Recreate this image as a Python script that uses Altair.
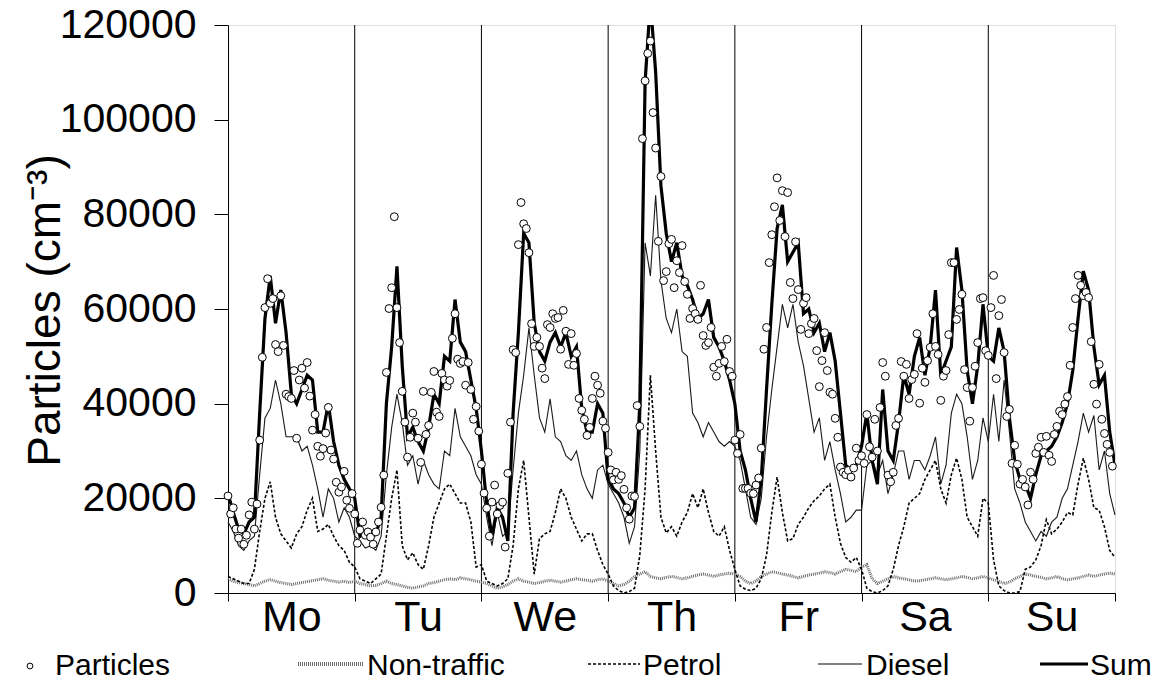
import altair as alt
import pandas as pd

DAYS = ["Mo", "Tu", "We", "Th", "Fr", "Sa", "Su"]
Y_TICKS = [0, 20000, 40000, 60000, 80000, 100000, 120000]
DAY_EDGES = [0, 24, 48, 72, 96, 120, 144, 168]
INNER_EDGES = [24, 48, 72, 96, 120, 144]

# Measured particles, half-hourly (48 per day)
particles_mo = [20500, 16700, 18000, 13500, 11600, 13500, 10300, 12200, 16500, 19200, 13500, 18800,
                32300, 49800, 60300, 66400, 61200, 62200, 52500, 51000, 62800, 52300, 42000, 41500,
                41100, 47000, 32700, 45000, 47500, 43300, 48700, 41600, 34400, 37700, 31000, 28900,
                30500, 33800, 39200, 30200, 28300, 23400, 21300, 22400, 25700, 19600, 17900, 21000]
particles_tu = [16700, 10500, 13300, 15000, 12200, 12900, 11800, 10300, 12900, 15000, 18100, 24900,
                46600, 60100, 64500, 79500, 60300, 52900, 42600, 36100, 28700, 32900, 38000, 36100,
                32700, 27600, 42600, 33500, 35400, 42400, 46800, 38200, 37300, 46400, 45000, 43700,
                44900, 53800, 59000, 49400, 48500, 48900, 43900, 48700, 43000, 36700, 39400, 34200]
particles_we = [27200, 21100, 17900, 12000, 19200, 22800, 16700, 18500, 19200, 9700, 25300, 36100,
                51400, 50800, 73600, 82500, 78000, 77000, 71900, 56900, 52100, 54000, 52100, 47500,
                45300, 56700, 56100, 59000, 58000, 58200, 51500, 59700, 55300, 48300, 54800, 48100,
                50600, 41100, 38600, 36700, 33300, 35000, 41100, 45800, 43900, 42200, 36300, 34800]
particles_th = [29700, 26000, 23900, 25500, 24000, 24800, 21900, 18000, 15600, 20500, 20400, 39600,
                35200, 96000, 108200, 114000, 116600, 101500, 94000, 74300, 88000, 66000, 67900, 73800,
                74700, 64500, 70200, 67700, 73400, 65800, 63100, 58000, 60100, 59000, 57800, 65000,
                54400, 52300, 52900, 56100, 47700, 45800, 48500, 52100, 48900, 53600, 46800, 45800]
particles_fr = [32300, 29500, 33500, 22100, 22100, 22100, 21100, 21000, 22800, 24300, 30600, 51500,
                56100, 69800, 75700, 81600, 87700, 78700, 85000, 75300, 84600, 65600, 62200, 74200,
                64100, 55700, 61200, 62400, 54800, 56900, 58000, 51200, 43600, 49100, 55000, 47000,
                42400, 42000, 36900, 32900, 26600, 25500, 25000, 25900, 24500, 26400, 30600, 28000]
particles_sa = [29000, 27400, 37700, 30900, 28700, 36700, 30000, 39200, 48700, 45800, 24900, 23500,
                25500, 35400, 36900, 48900, 45800, 48300, 41100, 45100, 46200, 54800, 40100, 47500,
                44500, 49100, 51900, 59000, 52100, 50400, 40700, 45800, 47000, 54600, 69800, 69800,
                57800, 59900, 63100, 47200, 43400, 36300, 43400, 47900, 52900, 62200, 62400, 51200]
particles_su = [50200, 60300, 67100, 45300, 58600, 62000, 50800, 37300, 38800, 27400, 31200, 27200,
                23000, 24000, 22400, 18600, 25500, 24000, 29500, 30800, 32900, 29700, 33100, 29100,
                27800, 33500, 35200, 38400, 37700, 39900, 41500, 48100, 56100, 62200, 67100, 65000,
                62800, 63500, 62400, 53100, 44100, 39900, 48300, 36700, 33700, 31400, 29700, 26800]

# Modelled contributions, hourly (24 per day) + value at end of week
sum_mo = [21000, 17000, 13500, 12500, 15000, 16000, 38000, 58000, 67000, 57000, 64000, 55000,
          42000, 40000, 43000, 46000, 45000, 34000, 34000, 40000, 32000, 27000, 24000, 22000]
sum_tu = [20000, 12000, 13000, 11500, 12500, 16000, 40000, 52000, 69000, 48000, 33000, 35000,
          32000, 30000, 35000, 42000, 40000, 50000, 49000, 62000, 53000, 51000, 45000, 39000]
sum_we = [30000, 19000, 12000, 18000, 16000, 11000, 38000, 55000, 76000, 74000, 57000, 51000,
          49000, 53000, 55000, 52000, 55000, 50000, 52000, 39000, 34000, 34000, 40000, 38000]
sum_th = [24000, 22000, 21000, 19000, 16000, 18000, 40000, 108000, 125000, 110000, 86000, 76000,
          70000, 74000, 67000, 65000, 62000, 58000, 59000, 62000, 54000, 52000, 49000, 45000]
sum_fr = [40000, 30000, 26000, 20000, 15000, 24000, 43000, 61000, 77000, 82000, 70000, 72000,
          74000, 59000, 60000, 55000, 57000, 51000, 55000, 49000, 38000, 27000, 26000, 27000]
sum_sa = [31000, 38000, 28000, 23000, 43000, 30000, 28000, 36000, 46000, 42000, 50000, 54000,
          46000, 52000, 64000, 46000, 49000, 52000, 73000, 64000, 47000, 40000, 48000, 61000]
sum_su = [50000, 49000, 56000, 51000, 37000, 28000, 24000, 23000, 20000, 25000, 29000, 30000,
          31000, 33000, 36000, 40000, 47000, 58000, 68000, 64000, 52000, 44000, 46000, 34000]
sum_end = 27000

diesel_mo = [15000, 13000, 10000, 9000, 11000, 12000, 25000, 37000, 39000, 45000, 40000, 33000,
             33000, 33000, 30000, 31000, 27000, 22000, 16000, 22000, 20000, 15000, 18000, 16000]
diesel_tu = [12000, 11000, 9500, 10000, 9000, 12000, 25000, 35000, 42000, 36000, 27000, 29000,
             23000, 28000, 25000, 23000, 22000, 30000, 29000, 39000, 33000, 31000, 29000, 25000]
diesel_we = [23000, 16000, 10000, 17000, 12000, 13000, 26000, 38000, 46000, 56000, 46000, 37000,
             34000, 41000, 33000, 32000, 29000, 28000, 30000, 25000, 22000, 20000, 26000, 27000]
diesel_th = [23000, 21000, 19000, 16000, 10500, 14000, 30000, 74000, 67000, 84000, 66000, 58000,
             55000, 60000, 51000, 50000, 38000, 36000, 33000, 36000, 34000, 32000, 31000, 32000]
diesel_fr = [31000, 28000, 22000, 16000, 14500, 20000, 33000, 43000, 52000, 61000, 56000, 61000,
             53000, 48000, 41000, 34000, 37000, 28000, 32000, 26000, 21000, 15000, 16000, 17500]
diesel_sa = [17500, 27000, 28000, 25000, 28000, 21000, 25000, 30000, 30000, 24000, 28000, 28000,
             26000, 29000, 33000, 23000, 27000, 38000, 42000, 40000, 33000, 24000, 28000, 37000]
diesel_su = [32000, 42000, 32000, 45000, 34000, 22000, 19000, 15000, 13000, 11000, 13000, 12000,
             15000, 16000, 20000, 22000, 27000, 32000, 38000, 34000, 37500, 26000, 30000, 21000]
diesel_end = 16500

petrol_mo = [3500, 3000, 2500, 2000, 2000, 5000, 13000, 20000, 23500, 16000, 12500, 11000,
             9500, 12500, 14000, 17500, 20000, 13000, 13500, 14500, 12000, 10000, 9000, 6500]
petrol_tu = [5500, 3000, 2500, 2000, 3000, 4000, 12000, 20000, 26000, 10000, 7000, 8500,
             6000, 5000, 10000, 16000, 19000, 22000, 23000, 21000, 19000, 19000, 15000, 5500]
petrol_we = [6000, 2500, 2000, 1500, 2000, 3000, 10000, 22000, 28000, 16000, 4000, 11500,
             12500, 13000, 17000, 22000, 20000, 16000, 13500, 11000, 12500, 12500, 9000, 6000]
petrol_th = [4000, 1500, 500, 0, 300, 1000, 8000, 22000, 46000, 30000, 16000, 12700,
             14000, 12000, 15000, 17000, 21000, 18000, 22000, 17000, 13000, 12000, 14000, 9000]
petrol_fr = [5000, 1500, 800, 500, 1000, 3000, 8000, 17000, 24500, 17000, 11000, 11500,
             14500, 16000, 18000, 19500, 20500, 22000, 23000, 16000, 10500, 7500, 6500, 7500]
petrol_sa = [5000, 1000, 300, 0, 500, 1500, 5000, 10000, 14000, 19000, 20000, 21000,
             24000, 26000, 28000, 22000, 19000, 25000, 28500, 24000, 16000, 14000, 12000, 20000]
petrol_su = [19000, 7000, 1500, 500, 0, 0, 300, 5000, 5500, 7000, 10000, 15500,
             12500, 13500, 15000, 17000, 16500, 23000, 28500, 24000, 18000, 17500, 14000, 9000]
petrol_end = 7500

nontraffic_mo = [3000, 2500, 2200, 2000, 1800, 1500, 2000, 2500, 2800, 2500, 2200, 2000,
                 1800, 2000, 2200, 2400, 2600, 2800, 3000, 2700, 2500, 2300, 2500, 2200]
nontraffic_tu = [2500, 2000, 1800, 1500, 1600, 2000, 2500, 2000, 1800, 1500, 1200, 1000,
                 1300, 1500, 2000, 2200, 2500, 2800, 3000, 2800, 3200, 3000, 2800, 2500]
nontraffic_we = [2300, 2000, 1500, 1000, 1300, 1800, 2500, 3000, 2500, 2300, 2000, 2200,
                 2500, 2700, 2500, 2300, 2500, 2800, 3000, 2800, 2700, 2500, 2800, 3000]
nontraffic_th = [2500, 2000, 1500, 1800, 2500, 3500, 4000, 4500, 3500, 3200, 3000, 3300,
                 3500, 3300, 3000, 3200, 3500, 3800, 4000, 3800, 3500, 3800, 4000, 4200]
nontraffic_fr = [4000, 3500, 2500, 2000, 2500, 3500, 4000, 4500, 4300, 4000, 3800, 3500,
                 3200, 3500, 3800, 4000, 4200, 4500, 4300, 4000, 4500, 5000, 4800, 4500]
nontraffic_sa = [5500, 6000, 3000, 2000, 2500, 3000, 3500, 3200, 3000, 2800, 2500, 2600,
                 2800, 3000, 3200, 3000, 2800, 3000, 3200, 3500, 3300, 3000, 3200, 3500]
nontraffic_su = [3200, 2800, 2500, 2000, 2300, 3000, 3500, 4000, 3800, 3500, 3300, 3000,
                 3200, 3500, 3000, 2800, 3000, 3200, 3500, 3800, 3500, 3800, 4000, 4200]
nontraffic_end = 4000


def hourly_df(day_lists, end_value):
    vals = [v for day in day_lists for v in day] + [end_value]
    return pd.DataFrame({"hour": list(range(len(vals))), "value": vals})


particles = (particles_mo + particles_tu + particles_we + particles_th
             + particles_fr + particles_sa + particles_su)
p_df = pd.DataFrame({"hour": [i * 0.5 for i in range(len(particles))], "value": particles})
sum_df = hourly_df([sum_mo, sum_tu, sum_we, sum_th, sum_fr, sum_sa, sum_su], sum_end)
diesel_df = hourly_df([diesel_mo, diesel_tu, diesel_we, diesel_th, diesel_fr, diesel_sa, diesel_su], diesel_end)
petrol_df = hourly_df([petrol_mo, petrol_tu, petrol_we, petrol_th, petrol_fr, petrol_sa, petrol_su], petrol_end)
nt_df = hourly_df([nontraffic_mo, nontraffic_tu, nontraffic_we, nontraffic_th,
                   nontraffic_fr, nontraffic_sa, nontraffic_su], nontraffic_end)
edges_df = pd.DataFrame({"hour": INNER_EDGES})

W, H = 887, 568
FONT = "Liberation Sans"

label_expr = " : ".join(
    f"datum.value == {e} ? '{d}'" for e, d in zip(DAY_EDGES, DAYS)
) + " : ''"

x_enc = alt.X(
    "hour:Q",
    scale=alt.Scale(domain=[0, 168], nice=False, zero=False),
    axis=alt.Axis(values=DAY_EDGES, labelExpr=label_expr, labelOffset=W / 14,
                  labelFlush=False, labelOverlap=False, tickSize=8, tickColor="black",
                  domainColor="black", labelColor="black", labelFontSize=43,
                  labelPadding=-5, grid=False, title=None, labelFont=FONT),
)
y_enc = alt.Y(
    "value:Q",
    scale=alt.Scale(domain=[0, 120000], nice=False),
    axis=alt.Axis(values=Y_TICKS, format="d", tickSize=14, tickColor="black",
                  domainColor="black", labelColor="black", labelFontSize=41,
                  labelPadding=18, grid=False, labelFont=FONT,
                  title="Particles (cm⁻³)", titleFontSize=46, titleFontWeight="normal",
                  titleFont=FONT, titleColor="black", titleX=-183, titleY=285,
                  titleAngle=270, titleAlign="center", titleBaseline="middle"),
)

edges = alt.Chart(edges_df).mark_rule(color="black", strokeWidth=1).encode(x=x_enc)
nt_line = alt.Chart(nt_df).mark_line(color="#6e6e6e", strokeWidth=3, strokeDash=[1, 1]).encode(x=x_enc, y=y_enc)
petrol_line = alt.Chart(petrol_df).mark_line(color="black", strokeWidth=1.6, strokeDash=[3, 2]).encode(x=x_enc, y=y_enc)
diesel_line = alt.Chart(diesel_df).mark_line(color="#1a1a1a", strokeWidth=1.1).encode(x=x_enc, y=y_enc)
sum_line = alt.Chart(sum_df).mark_line(color="black", strokeWidth=3.2, clip=True).encode(x=x_enc, y=y_enc)
points = alt.Chart(p_df).mark_point(shape="circle", filled=True, fill="white", stroke="black",
                                     strokeWidth=1, size=62, opacity=1).encode(x=x_enc, y=y_enc)

# Legend (drawn below the plot)
LY = 639
one = pd.DataFrame({"k": [0]})
leg_layers = [
    alt.Chart(one).mark_point(shape="circle", filled=True, fill="white", stroke="black",
                              strokeWidth=1, size=34, opacity=1).encode(x=alt.value(-198), y=alt.value(LY + 2)),
    alt.Chart(one).mark_rule(color="#6e6e6e", strokeWidth=4, strokeDash=[1, 1]).encode(
        x=alt.value(70), x2=alt.value(136), y=alt.value(LY)),
    alt.Chart(one).mark_rule(color="black", strokeWidth=1.6, strokeDash=[3, 2]).encode(
        x=alt.value(360), x2=alt.value(412), y=alt.value(LY)),
    alt.Chart(one).mark_rule(color="black", strokeWidth=1.1).encode(
        x=alt.value(590), x2=alt.value(634), y=alt.value(LY)),
    alt.Chart(one).mark_rule(color="black", strokeWidth=3.2).encode(
        x=alt.value(812), x2=alt.value(860), y=alt.value(LY)),
]
leg_texts = [("Particles", -173), ("Non-traffic", 139), ("Petrol", 415), ("Diesel", 638), ("Sum", 862)]
for txt, xx in leg_texts:
    leg_layers.append(
        alt.Chart(one).mark_text(align="left", baseline="middle", fontSize=30, font=FONT,
                                 color="black").encode(x=alt.value(xx), y=alt.value(LY + 2),
                                                       text=alt.value(txt))
    )

chart = alt.layer(edges, nt_line, petrol_line, diesel_line, sum_line, points, *leg_layers).properties(
    width=W, height=H,
    autosize=alt.AutoSizeParams(type="none"),
    padding={"left": 228, "top": 25, "right": 39, "bottom": 91},
).configure_view(stroke=None).configure(font=FONT)

chart.save("out.html", embed_options={"renderer": "svg", "actions": False})
